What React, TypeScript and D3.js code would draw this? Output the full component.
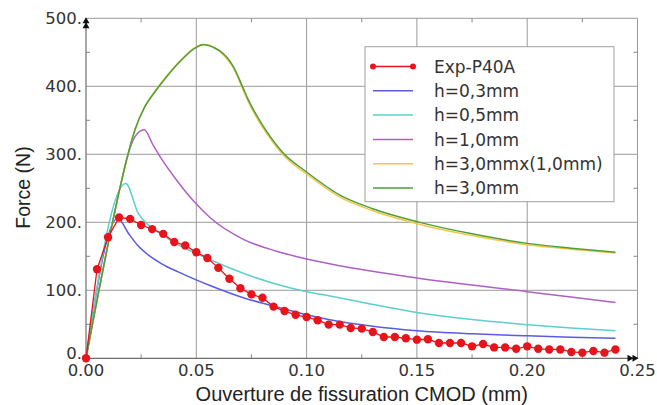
import React from "react";
import * as d3 from "d3";

const W = 657;
const H = 405;

// Experimental series Exp-P40A
const expX = [0, 0.005, 0.01, 0.015, 0.02, 0.025, 0.03, 0.035, 0.04, 0.045, 0.05, 0.055, 0.06, 0.065, 0.07, 0.075, 0.08, 0.085, 0.09, 0.095, 0.1, 0.105, 0.11, 0.115, 0.12, 0.125, 0.13, 0.135, 0.14, 0.145, 0.15, 0.155, 0.16, 0.165, 0.17, 0.175, 0.18, 0.185, 0.19, 0.195, 0.2, 0.205, 0.21, 0.215, 0.22, 0.225, 0.23, 0.235, 0.24];
const expY = [0, 131, 178, 207, 205, 196, 190, 183, 171, 166, 156, 147.5, 133, 117, 103, 94, 89, 76, 69.5, 64, 60.7, 56, 49.5, 49.5, 44.6, 43.6, 38.7, 31.3, 31.3, 29.4, 27.4, 28, 22.5, 22.5, 22.5, 17.6, 21, 16, 16, 14, 17.6, 14, 13, 13, 9.3, 8.3, 10.8, 8.3, 13];

// h=0,3mm
const h03X = [0, 0.0144, 0.0192, 0.0237, 0.0282, 0.0343, 0.0418, 0.0494, 0.0562, 0.0713, 0.085, 0.1, 0.11, 0.13, 0.15, 0.175, 0.2, 0.22, 0.24];
const h03Y = [0, 206, 184, 165, 152, 139, 127, 116, 107, 89, 77, 64, 57, 47, 40.5, 36, 33, 31, 29.5];

// h=0,5mm
const h05X = [0, 0.018, 0.0237, 0.0282, 0.0343, 0.0418, 0.0494, 0.0577, 0.0713, 0.0864, 0.1, 0.1106, 0.125, 0.15, 0.175, 0.2, 0.22, 0.24];
const h05Y = [0, 257, 213, 196, 182, 167, 155, 143, 125, 109, 98, 91.5, 82.5, 67.5, 57, 49.5, 44.5, 40.6];

// h=1,0mm
const h10X = [0, 0.0162, 0.0184, 0.0222, 0.0264, 0.0305, 0.0335, 0.0418, 0.0494, 0.0562, 0.0713, 0.0864, 0.1, 0.1151, 0.15, 0.2, 0.24];
const h10Y = [0, 262, 292, 326, 336, 313, 297, 259, 229, 207, 175, 157.5, 146, 136, 118, 98, 82];

// h=3,0mm and h=3,0mmx(1,0mm)
const h30X = [0, 0.0162, 0.0184, 0.0222, 0.0267, 0.0313, 0.0373, 0.0434, 0.0494, 0.0532, 0.0585, 0.0607, 0.0668, 0.0713, 0.0736, 0.0804, 0.0894, 0.1, 0.1151, 0.13, 0.15, 0.175, 0.2, 0.22, 0.24];
const h30Y = [0, 262, 292, 336, 370, 392, 417, 439, 456, 461, 456, 452, 429, 397, 380, 341, 302, 274, 240, 220, 201, 183, 169, 162, 156];
const h30xY = [0, 262, 292, 336, 371, 393, 418, 440, 457, 462, 457, 451, 427, 394, 377, 338, 299, 271, 237, 217, 198, 180.5, 167, 160.5, 155];

const xTicks = [0, 0.05, 0.1, 0.15, 0.2, 0.25];
const xTickLabels = ["0.00", "0.05", "0.10", "0.15", "0.20", "0.25"];
const xMinor = [0.025, 0.075, 0.125, 0.175, 0.225];
const yTicks = [0, 100, 200, 300, 400, 500];
const yTickLabels = ["0.", "100.", "200.", "300.", "400.", "500."];
const yMinor = [50, 150, 250, 350, 450];

const legendLabels = ["Exp-P40A", "h=0,3mm", "h=0,5mm", "h=1,0mm", "h=3,0mmx(1,0mm)", "h=3,0mm"];
const colors = ["#e8141b", "#5b5be0", "#5ccfd0", "#b05fc4", "#f2c848", "#4f9e3c"];

const plot = { left: 86, right: 637.5, top: 18.3, bottom: 358.3 };

export default function App() {
  const x = d3.scaleLinear().domain([0, 0.25]).range([plot.left, plot.right]);
  const y = d3.scaleLinear().domain([0, 500]).range([plot.bottom, plot.top]);

  const smooth = d3
    .line<[number, number]>()
    .x((d) => x(d[0]))
    .y((d) => y(d[1]))
    .curve(d3.curveMonotoneX);
  const straight = d3
    .line<[number, number]>()
    .x((d) => x(d[0]))
    .y((d) => y(d[1]))
    .curve(d3.curveLinear);

  const zip = (xs: number[], ys: number[]) => xs.map((v, i) => [v, ys[i]] as [number, number]);

  const models = [
    { xs: h03X, ys: h03Y, c: colors[1] },
    { xs: h05X, ys: h05Y, c: colors[2] },
    { xs: h10X, ys: h10Y, c: colors[3] },
    { xs: h30X, ys: h30xY, c: colors[4] },
    { xs: h30X, ys: h30Y, c: colors[5] },
  ];

  const exp = zip(expX, expY);
  const gridColor = "#9a9a9a";
  const tickFont = "'DejaVu Sans', Verdana, sans-serif";
  const titleFont = "'Liberation Sans', Arial, sans-serif";

  const lg = { x: 365, y: 46.7, w: 249, h: 155, row0: 66.5, step: 24.3, l0: 373, l1: 413, tx: 434 };

  return (
    <svg
      width={W}
      height={H}
      style={{ position: "absolute", left: 0, top: 0, background: "#fff" }}
    >
      <rect x={0} y={0} width={W} height={H} fill="#fff" />
      {/* grid */}
      {xTicks.slice(1, -1).map((t) => (
        <line key={"gx" + t} x1={x(t)} x2={x(t)} y1={plot.top} y2={plot.bottom} stroke={gridColor} strokeWidth={1} />
      ))}
      {yTicks.slice(1, -1).map((t) => (
        <line key={"gy" + t} x1={plot.left} x2={plot.right} y1={y(t)} y2={y(t)} stroke={gridColor} strokeWidth={1} />
      ))}
      {/* frame */}
      <line x1={plot.left} x2={plot.right} y1={plot.top} y2={plot.top} stroke={gridColor} strokeWidth={1} />
      <line x1={plot.right} x2={plot.right} y1={plot.top} y2={plot.bottom} stroke={gridColor} strokeWidth={1} />
      {/* minor ticks */}
      {xMinor.map((t) => (
        <g key={"mx" + t}>
          <line x1={x(t)} x2={x(t)} y1={plot.bottom} y2={plot.bottom - 4} stroke="#888" />
          <line x1={x(t)} x2={x(t)} y1={plot.top} y2={plot.top + 4} stroke="#888" />
        </g>
      ))}
      {yMinor.map((t) => (
        <g key={"my" + t}>
          <line x1={plot.left} x2={plot.left + 4} y1={y(t)} y2={y(t)} stroke="#888" />
          <line x1={plot.right} x2={plot.right - 4} y1={y(t)} y2={y(t)} stroke="#888" />
        </g>
      ))}
      {/* axes */}
      <line x1={plot.left} x2={plot.left} y1={plot.top} y2={plot.bottom} stroke="#6e6e6e" strokeWidth={1.2} />
      <line x1={plot.left} x2={plot.right} y1={plot.bottom} y2={plot.bottom} stroke="#6e6e6e" strokeWidth={1.2} />
      {/* arrows */}
      <path
        d={`M${plot.left - 3.5},${plot.top + 5} L${plot.left},${plot.top - 1} L${plot.left + 3.5},${plot.top + 5} Z M${plot.left - 3.5},${plot.top + 10} L${plot.left},${plot.top + 4} L${plot.left + 3.5},${plot.top + 10} Z`}
        fill="#111"
      />
      <path
        d={`M${plot.right - 10},${plot.bottom - 3.5} L${plot.right - 4},${plot.bottom} L${plot.right - 10},${plot.bottom + 3.5} Z M${plot.right - 5},${plot.bottom - 3.5} L${plot.right + 1},${plot.bottom} L${plot.right - 5},${plot.bottom + 3.5} Z`}
        fill="#111"
      />
      {/* model curves */}
      {models.map((m, i) => (
        <path key={"m" + i} d={smooth(zip(m.xs, m.ys)) || ""} fill="none" stroke={m.c} strokeWidth={1.5} strokeLinejoin="round" />
      ))}
      {/* experimental */}
      <path d={straight(exp) || ""} fill="none" stroke={colors[0]} strokeWidth={1.3} />
      {exp.map((d, i) => (
        <circle key={"e" + i} cx={x(d[0])} cy={y(d[1])} r={4.2} fill={colors[0]} />
      ))}
      {/* tick labels */}
      {xTicks.map((t, i) => (
        <text key={"xl" + t} x={x(t)} y={376} textAnchor="middle" fontFamily={tickFont} fontSize={16.5} fill="#333">
          {xTickLabels[i]}
        </text>
      ))}
      {yTicks.map((t, i) => (
        <text key={"yl" + t} x={82} y={y(t) - (t === 0 ? 5 : 0)} dy="0.36em" textAnchor="end" fontFamily={tickFont} fontSize={16.5} fill="#333">
          {yTickLabels[i]}
        </text>
      ))}
      {/* axis titles */}
      <text x={(plot.left + plot.right) / 2} y={401} textAnchor="middle" fontFamily={titleFont} fontSize={20} fill="#222">
        Ouverture de fissuration CMOD (mm)
      </text>
      <text
        transform={`translate(30,187.5) rotate(-90)`}
        textAnchor="middle"
        fontFamily={titleFont}
        fontSize={19.5}
        fill="#222"
      >
        Force (N)
      </text>
      {/* legend */}
      <rect x={lg.x} y={lg.y} width={lg.w} height={lg.h} fill="#fff" stroke="#a0a0a0" strokeWidth={1} />
      {legendLabels.map((lab, i) => {
        const yy = lg.row0 + i * lg.step;
        return (
          <g key={"lg" + i}>
            <line x1={lg.l0} x2={lg.l1} y1={yy} y2={yy} stroke={colors[i]} strokeWidth={1.5} />
            {i === 0 && (
              <>
                <circle cx={lg.l0} cy={yy} r={3} fill={colors[0]} />
                <circle cx={lg.l1} cy={yy} r={3} fill={colors[0]} />
              </>
            )}
            <text x={lg.tx} y={yy} dy="0.36em" fontFamily={tickFont} fontSize={17} fill="#333">
              {lab}
            </text>
          </g>
        );
      })}
    </svg>
  );
}
